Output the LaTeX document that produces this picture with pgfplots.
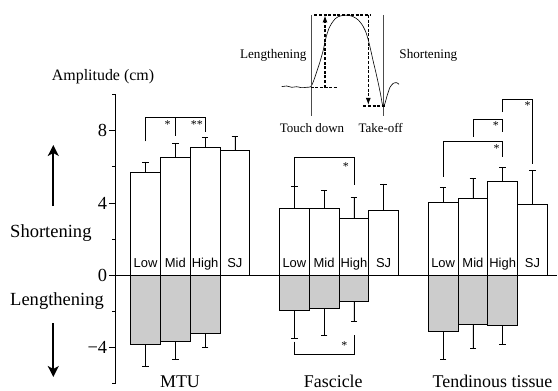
\documentclass[border=0pt]{standalone}
\usepackage{fontspec}
\setmainfont{Liberation Serif}
\newfontfamily\sansf{Liberation Sans}
\usepackage{pgfplots}
\pgfplotsset{compat=1.18}
\usetikzlibrary{arrows.meta}

\pgfplotstableread{
x y e
0 5.72 0.56
1 6.52 0.80
2 7.07 0.56
3 6.89 0.82
5 3.68 1.23
6 3.72 1.00
7 3.15 1.17
8 3.59 1.47
10 4.06 0.79
11 4.26 1.09
12 5.20 0.78
13 3.91 1.90
}\shortdata

\pgfplotstableread{
x y e
0 -3.85 1.17
1 -3.65 1.03
2 -3.21 0.81
5 -1.94 1.54
6 -1.82 1.53
7 -1.46 1.11
10 -3.13 1.50
11 -2.74 1.30
12 -2.76 1.09
}\lengdata

\begin{document}
\begin{tikzpicture}
\begin{axis}[
  at={(115.84bp,7.4bp)}, anchor=south west,
  scale only axis, width=441bp, height=288.9bp,
  xmin=-1, xmax=13.82, ymin=-6, ymax=10,
  axis y line=left, axis x line=none,
  axis line style={-, line width=0.9pt},
  ytick={-4,0,4,8}, yticklabels={−4,0,4,8},
  minor ytick={-6,-2,2,6,10},
  tick align=outside, major tick length=7bp, minor tick length=3.5bp,
  tick style={line width=0.9pt, black},
  yticklabel style={font=\fontsize{18.5}{20}\selectfont, inner sep=1.5bp},
  clip=false]

\addplot[ybar, bar width=1, bar shift=0pt, fill=white, draw=black, line width=0.8pt,
  error bars/.cd, y dir=plus, y explicit, error mark=|,
  error bar style={black, line width=0.7pt},
  error mark options={black, mark size=3.3bp, line width=0.7pt}]
  table[x=x, y=y, y error=e]{\shortdata};

\addplot[ybar, bar width=1, bar shift=0pt, fill=black!20, draw=black, line width=0.8pt,
  error bars/.cd, y dir=minus, y explicit, error mark=|,
  error bar style={black, line width=0.7pt},
  error mark options={black, mark size=3.3bp, line width=0.7pt}]
  table[x=x, y=y, y error=e]{\lengdata};

\addplot[black, line width=0.9pt] coordinates {(-1,0) (13.82,0)};

% significance brackets
\addplot[black, line width=0.7pt] coordinates {(0,7.41) (0,8.74) (2,8.74) (2,7.96)};
\addplot[black, line width=0.7pt] coordinates {(1,8.74) (1,7.74)};
\addplot[black, line width=0.7pt] coordinates {(5,4.9) (5,6.54) (7,6.54) (7,5.0)};
\addplot[black, line width=0.7pt] coordinates {(5,-3.68) (5,-4.4) (7,-4.4) (7,-3.33)};
\addplot[black, line width=0.7pt] coordinates {(10,5.46) (10,7.39) (12,7.39) (12,6.54)};
\addplot[black, line width=0.7pt] coordinates {(11,7.68) (11,8.63) (12,8.63) (12,7.93)};
\addplot[black, line width=0.7pt] coordinates {(12,9.04) (12,9.72) (13,9.72) (13,6.15)};

\begin{scope}[every node/.style={font=\fontsize{12}{12}\selectfont, anchor=base, inner sep=0pt}]
\node at (axis cs:0.74,8.15) {*};
\node at (axis cs:1.72,8.15) {**};
\node at (axis cs:6.73,5.80) {*};
\node at (axis cs:6.68,-4.11) {*};
\node at (axis cs:11.8,6.81) {*};
\node at (axis cs:11.77,8.08) {*};
\node at (axis cs:12.84,9.17) {*};
\end{scope}

\begin{scope}[every node/.style={font=\sansf\fontsize{13}{13}\selectfont, anchor=base, inner sep=0pt}]
\node at (axis cs:0,0.44) {Low};
\node at (axis cs:1,0.44) {Mid};
\node at (axis cs:2,0.44) {High};
\node at (axis cs:3,0.44) {SJ};
\node at (axis cs:5,0.44) {Low};
\node at (axis cs:6,0.44) {Mid};
\node at (axis cs:7,0.44) {High};
\node at (axis cs:8,0.44) {SJ};
\node at (axis cs:10,0.44) {Low};
\node at (axis cs:11,0.44) {Mid};
\node at (axis cs:12,0.44) {High};
\node at (axis cs:13,0.44) {SJ};
\end{scope}
\end{axis}

% overlay in pixel coordinates for texts and the schematic inset
\begin{axis}[
  at={(0,0)}, anchor=south west,
  scale only axis, width=558bp, height=391bp,
  xmin=0, xmax=558, ymin=0, ymax=391, y dir=reverse,
  hide axis, clip=false]

% inset curve
\addplot[black, line width=0.6pt, smooth, tension=0.4] coordinates {
(281.7,86.7) (286.7,86) (291.7,87.3) (296.7,86.7) (301.7,87.7) (306.7,87.3) (310.7,86.7)
(313.3,81.7) (316.7,71.7) (320,61.7) (323.3,50) (325,41.7) (326.7,35) (329,28.3)
(331.7,23.3) (335,19) (338.3,16.7) (343.3,15.3) (348.3,15.3) (353.3,16.7) (358.3,20)
(362.3,25) (365.7,31.7) (368.3,40) (370.7,50) (373.3,61.7) (375.7,71.7) (378.3,83.3)
(380.7,95) (382.3,104) (383.7,106) (385,103.3) (387.3,95) (390,87.3) (393.3,83.3)
(396.7,82.7) (399,84.3)};
\addplot[black!70, line width=0.4pt] coordinates {(310.7,15) (310.7,116.5)};
\addplot[black!70, line width=0.4pt] coordinates {(383.3,15) (383.3,116.5)};
\addplot[black, line width=1.1pt, dash pattern=on 3bp off 1.6bp] coordinates {(314.3,15) (370.7,15)};
\addplot[black, line width=1.1pt, dash pattern=on 3bp off 1.6bp] coordinates {(310.7,87.7) (336.7,87.7)};
\addplot[black, line width=1.1pt, dash pattern=on 3bp off 1.6bp] coordinates {(363.3,106) (385,106)};
\addplot[black, line width=1.1pt, dash pattern=on 3bp off 1.6bp, -{Latex[length=7bp,width=5bp]}] coordinates {(325,87.7) (325,15.5)};
\addplot[black, line width=1.1pt, dash pattern=on 3bp off 1.6bp, -{Latex[length=7bp,width=5bp]}] coordinates {(368.3,15) (368.3,105)};

% big arrows
\addplot[black, line width=1.8pt, -{Stealth[length=11bp,width=11bp,inset=3bp]}] coordinates {(53.3,206) (53.3,145)};
\addplot[black, line width=1.8pt, -{Stealth[length=11bp,width=11bp,inset=3bp]}] coordinates {(53.3,323) (53.3,377)};

\begin{scope}[every node/.style={inner sep=0pt}]
\node[font=\fontsize{13.2}{14}\selectfont] at (axis cs:273.3,55.5) {Lengthening};
\node[font=\fontsize{13.2}{14}\selectfont] at (axis cs:428.3,55.5) {Shortening};
\node[font=\fontsize{13}{14}\selectfont] at (axis cs:312,128) {Touch down};
\node[font=\fontsize{13}{14}\selectfont] at (axis cs:380.7,128) {Take-off};
\node[font=\fontsize{16}{18}\selectfont] at (axis cs:103,77) {Amplitude (cm)};
\node[font=\fontsize{18.6}{20}\selectfont, anchor=west] at (axis cs:10,233.5) {Shortening};
\node[font=\fontsize{18.6}{20}\selectfont, anchor=west] at (axis cs:10,301.3) {Lengthening};
\node[font=\fontsize{18}{20}\selectfont, anchor=base] at (axis cs:180,387) {MTU};
\node[font=\fontsize{18}{20}\selectfont, anchor=base] at (axis cs:333.3,387) {Fascicle};
\node[font=\fontsize{18}{20}\selectfont, anchor=base] at (axis cs:492.5,387) {Tendinous tissue};
\end{scope}
\end{axis}
\pgfresetboundingbox
\path[use as bounding box] (0,0) rectangle (558bp,391bp);
\end{tikzpicture}
\end{document}
